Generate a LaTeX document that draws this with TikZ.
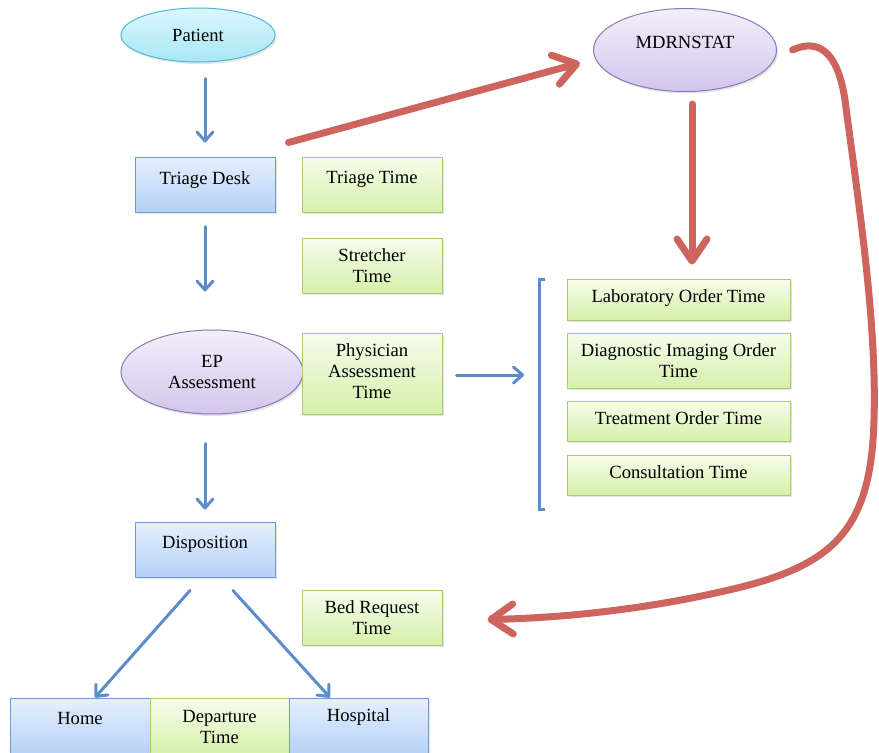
\documentclass[tikz,border=0pt]{standalone}
\usepackage{fontspec}
\setmainfont{Liberation Serif}
\usetikzlibrary{arrows.meta,shapes.geometric,shadows,calc}
\definecolor{barrowc}{RGB}{91,141,200}
\definecolor{rarrowc}{RGB}{205,100,94}
\definecolor{bdraw}{RGB}{110,155,210}
\definecolor{btop}{RGB}{230,240,253}
\definecolor{bbot}{RGB}{180,208,246}
\definecolor{gdraw}{RGB}{168,202,112}
\definecolor{gtop}{RGB}{246,252,236}
\definecolor{gbot}{RGB}{214,240,170}
\definecolor{cdraw}{RGB}{80,185,210}
\definecolor{ctop}{RGB}{220,247,253}
\definecolor{cbot}{RGB}{168,230,245}
\definecolor{pdraw}{RGB}{140,120,185}
\definecolor{ptop}{RGB}{243,239,250}
\definecolor{pbot}{RGB}{210,198,236}
\tikzset{
  every node/.style={font=\fontsize{18.6}{21}\selectfont, align=center, inner sep=0pt},
  shad/.style={drop shadow={opacity=0.22, shadow xshift=1.5pt, shadow yshift=-2pt}},
  bluebox/.style={rectangle, draw=bdraw, line width=1pt, top color=btop, bottom color=bbot, shad},
  greenbox/.style={rectangle, draw=gdraw, line width=1pt, top color=gtop, bottom color=gbot, shad},
  cyanell/.style={ellipse, draw=cdraw, line width=1pt, top color=ctop, bottom color=cbot, shad},
  purpell/.style={ellipse, draw=pdraw, line width=1pt, top color=ptop, bottom color=pbot, shad},
  wh/.style 2 args={minimum width=#1, minimum height=#2},
  liftby/.style={text height=13pt, text depth=#1},
  barrow/.style={draw=barrowc, line width=3pt, line cap=round, -{Straight Barb[length=9pt,width=16pt,round]}},
  rarrow/.style={draw=rarrowc, line width=7pt, line cap=round, -{Straight Barb[length=22pt,width=30pt,round]}},
}
\begin{document}
\begin{tikzpicture}[x=1pt,y=-1pt]
\useasboundingbox (0,0) rectangle (879,753);
% nodes
\node[cyanell, wh={154pt}{54pt}] (patient) at (198,35) {Patient};
\node[purpell, wh={183pt}{83pt}, liftby=16pt] (mdr) at (685,50) {MDRNSTAT};
\node[bluebox, wh={140pt}{55pt}, liftby=14pt] (triage) at (205,184.5) {Triage Desk};
\node[greenbox, wh={140pt}{55pt}, liftby=15pt] (triaget) at (372,184.5) {Triage Time};
\node[greenbox, wh={140pt}{55pt}] (stretch) at (372,265.5) {Stretcher\\Time};
\node[purpell, wh={182pt}{84pt}] (ep) at (212,372) {EP\\Assessment};
\node[greenbox, wh={140pt}{81pt}, text depth=4pt] (phys) at (372,373.5) {Physician\\Assessment\\Time};
\node[greenbox, wh={223pt}{41pt}, liftby=7pt] (lab) at (678.5,299.5) {Laboratory Order Time};
\node[greenbox, wh={223pt}{55pt}] (diag) at (678.5,360.5) {Diagnostic Imaging Order\\Time};
\node[greenbox, wh={223pt}{40pt}, liftby=7pt] (treat) at (678.5,421) {Treatment Order Time};
\node[greenbox, wh={223pt}{40pt}, liftby=6pt] (cons) at (678.5,475) {Consultation Time};
\node[bluebox, wh={140pt}{55pt}, liftby=15pt] (disp) at (205,549.5) {Disposition};
\node[greenbox, wh={140pt}{55pt}] (bed) at (372,617.5) {Bed Request\\Time};
\node[bluebox, wh={140pt}{58pt}, liftby=18pt] (home) at (80,727) {Home};
\node[greenbox, wh={139pt}{58pt}] (dep) at (219.5,727) {Departure\\Time};
\node[bluebox, wh={139pt}{58pt}, liftby=24pt] (hosp) at (358.5,727) {Hospital};
% bracket
\coordinate (brtop) at (545,279);
\coordinate (brbot) at (545,509);
\coordinate (brmid) at (540,375);
\draw[draw=barrowc, line width=3pt] (brtop) -- ++(-6,0) -- ++(0,230) -- (brbot);
% blue arrows
\draw[barrow, shorten <=16pt, shorten >=14pt] (triage.north |- patient.south) -- (triage.north);
\draw[barrow, shorten <=14pt, shorten >=38pt] (triage.south) -- (triage.south |- ep.north);
\draw[barrow, shorten <=29pt, shorten >=12pt] (disp.north |- ep.south) -- (disp.north);
\draw[barrow, shorten <=14pt, shorten >=16pt] (phys.east |- brmid) -- (brmid);
\draw[barrow] ([xshift=-15pt,yshift=-13pt]disp.south) -- ([xshift=15pt]home.north);
\draw[barrow] ([xshift=28pt,yshift=-13pt]disp.south) -- ([xshift=-28.5pt]hosp.north);
% red arrows
\draw[rarrow] ([xshift=13pt,yshift=14pt]triage.north east) -- ([xshift=-13pt,yshift=-13pt]mdr.west);
\draw[rarrow] ([xshift=7pt,yshift=-12pt]mdr.south) -- ([xshift=13.5pt,yshift=14pt]lab.north);
\coordinate (ca) at (845,100);
\coordinate (cb) at (874,420);
\coordinate (cc) at (720,592);
\draw[rarrow] ([xshift=15.5pt]mdr.east)
  .. controls (810,42) and (836,40) .. (ca)
  .. controls (858,200) and (877,320) .. (cb)
  .. controls (871,535) and (830,568) .. (cc)
  .. controls (640,610) and (560,618) .. ([xshift=45pt,yshift=-2pt]bed.east);
\end{tikzpicture}
\end{document}
